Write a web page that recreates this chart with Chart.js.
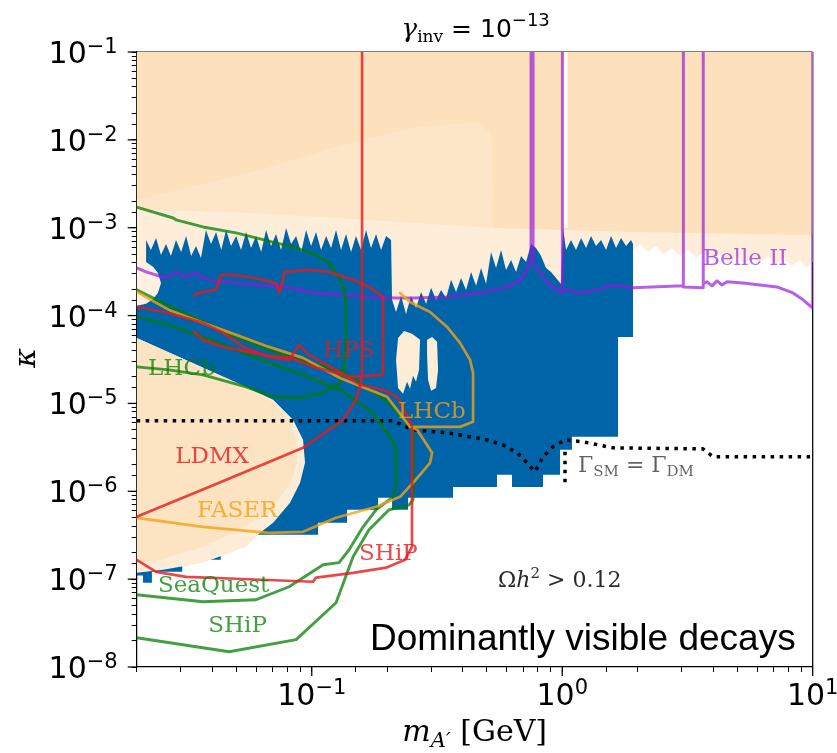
<!DOCTYPE html>
<html>
<head>
<meta charset="utf-8">
<script src="https://cdn.jsdelivr.net/npm/chart.js@4.4.1/dist/chart.umd.min.js"></script>
<style>
html,body{margin:0;padding:0;background:#ffffff;overflow:hidden;}
canvas{display:block;}
</style>
</head>
<body>
<canvas id="chart" width="837" height="753"></canvas>
<script>
// ---------------- axes ----------------
const xRange = [0.02, 10];
const yRange = [1e-8, 1e-1];
const xMajorTicks = [0.1, 1, 10];
const xMajorExponents = ['\u22121', '0', '1'];
const yMajorTicks = [1e-8, 1e-7, 1e-6, 1e-5, 1e-4, 1e-3, 1e-2, 1e-1];
const yMajorExponents = ['\u22128', '\u22127', '\u22126', '\u22125', '\u22124', '\u22123', '\u22122', '\u22121'];

// ---------------- excluded (peach) regions ----------------
const peachEdgeRight = [[1.917,5.59e-4],[2.045,6.54e-4],[2.201,5.30e-4],[2.369,6.21e-4],[2.549,5.03e-4],[2.744,5.89e-4],[2.953,4.78e-4],[3.178,5.59e-4],[3.420,4.53e-4],[3.682,5.30e-4],[3.963,4.30e-4],[4.266,5.03e-4],[4.591,4.08e-4],[4.941,4.78e-4],[5.318,3.87e-4],[5.724,4.53e-4],[6.160,4.08e-4],[6.630,4.78e-4],[7.136,3.87e-4],[7.681,4.53e-4],[8.266,3.67e-4],[8.897,4.30e-4],[9.403,3.49e-4],[10,4.08e-4]];
const peachDarkTop = [[0.02,0.1],[10,0.1],[10,8.28e-4],[1.9,8.96e-4],[0.53,9.95e-4],[0.52,1.14e-2],[0.457,1.56e-2],[0.271,1.40e-2],[0.171,1.05e-2],[0.108,7.29e-3],[0.0622,4.54e-3],[0.0358,3.07e-3],[0.02,2.07e-3]];
const peachWedge = [[0.02,2.07e-3],[0.0358,3.07e-3],[0.0622,4.54e-3],[0.108,7.29e-3],[0.171,1.05e-2],[0.271,1.40e-2],[0.457,1.56e-2],[0.52,1.14e-2],[0.53,9.95e-4],[0.3,1.1e-3],[0.12,1.3e-3],[0.05,1.5e-3],[0.02,1.6e-3]];
const whiteGap = [[1.01,0.1],[1.05,0.1],[1.05,9.95e-4],[1.01,9.95e-4]];
const peachBulge = [[0.02,4.30e-4],[0.0218,4.08e-4],[0.0233,3.58e-4],[0.0243,3.06e-4],[0.0250,2.35e-4],[0.0243,1.81e-4],[0.0233,1.55e-4],[0.0218,1.36e-4],[0.02,1.29e-4]];
const blobOuter = [[0.02,5.57e-5],[0.0547,1.54e-5],[0.0701,1.10e-5],[0.0842,6.51e-6],[0.0923,3.85e-6],[0.0940,2.11e-6],[0.0898,1.25e-6],[0.0819,7.40e-7],[0.0701,4.38e-7],[0.0622,3.37e-7],[0.0547,2.34e-7],[0.0368,1.54e-7],[0.0255,1.28e-7],[0.02,1.18e-7]];
const blobInner = [[0.02,5.57e-5],[0.0547,1.54e-5],[0.0701,1.04e-5],[0.0804,6.51e-6],[0.0866,3.85e-6],[0.0874,2.11e-6],[0.0819,1.19e-6],[0.0681,6.16e-7],[0.0517,3.65e-7],[0.0358,2.28e-7],[0.0248,1.66e-7],[0.02,1.54e-7]];

// ---------------- blue allowed region ----------------
const blueTop = [[0.0218,7.26e-4],[0.0228,5.59e-4],[0.0239,7.65e-4],[0.0250,4.9e-4],[0.0262,6.54e-4],[0.0274,4.78e-4],[0.0287,7.26e-4],[0.0301,5.30e-4],[0.0315,8.06e-4],[0.0330,4.78e-4],[0.0345,6.21e-4],[0.0361,4.53e-4],[0.0378,9.44e-4],[0.0396,6.54e-4],[0.0415,8.96e-4],[0.0435,5.59e-4],[0.0455,9.44e-4],[0.0476,6.21e-4],[0.0499,8.06e-4],[0.0522,5.59e-4],[0.0547,8.96e-4],[0.0572,5.89e-4],[0.0599,8.06e-4],[0.0628,5.30e-4],[0.0657,9.44e-4],[0.0688,6.21e-4],[0.0720,8.50e-4],[0.0754,5.59e-4],[0.0790,9.95e-4],[0.0827,6.54e-4],[0.0866,8.06e-4],[0.0907,5.30e-4],[0.0949,9.44e-4],[0.0994,6.21e-4],[0.1040,8.96e-4],[0.1089,5.59e-4],[0.1141,8.06e-4],[0.1194,5.89e-4],[0.1250,9.44e-4],[0.1309,5.59e-4],[0.1370,8.50e-4],[0.1435,5.30e-4],[0.1502,8.06e-4],[0.1573,5.59e-4],[0.1647,9.44e-4],[0.1724,5.89e-4],[0.1806,8.50e-4],[0.1891,5.59e-4],[0.1980,8.06e-4],[0.2073,7.26e-4],[0.2092,1.51e-4],[0.2170,1.10e-4],[0.2272,1.67e-4],[0.2379,1.04e-4],[0.2491,1.67e-4],[0.2608,1.22e-4],[0.2731,1.86e-4],[0.2860,1.36e-4],[0.2995,2.07e-4],[0.3135,1.51e-4],[0.3283,1.96e-4],[0.3437,1.59e-4],[0.3599,2.55e-4],[0.3768,1.86e-4],[0.3945,2.68e-4],[0.4131,1.96e-4],[0.4325,3.14e-4],[0.4529,2.18e-4],[0.4742,3.49e-4],[0.4965,2.29e-4],[0.5198,5.30e-4],[0.5442,3.49e-4],[0.5698,5.59e-4],[0.5966,3.31e-4],[0.6247,4.30e-4],[0.6541,3.14e-4],[0.6848,4.78e-4],[0.7171,4.08e-4],[0.7508,6.54e-4],[0.7861,5.89e-4],[0.8231,4.78e-4],[0.8618,3.49e-4],[0.9023,3.14e-4],[0.9447,2.68e-4],[0.9890,2.29e-4],[1.007,9.95e-4],[1.036,5.59e-4],[1.084,7.26e-4],[1.135,5.59e-4],[1.189,7.65e-4],[1.245,5.89e-4],[1.303,8.06e-4],[1.364,6.21e-4],[1.429,7.26e-4],[1.496,5.59e-4],[1.566,8.06e-4],[1.640,5.89e-4],[1.717,7.65e-4],[1.798,6.21e-4],[1.882,7.26e-4],[1.917,6.54e-4]];
const blueBottom = [[1.917,5.72e-5],[1.670,5.72e-5],[1.670,4.17e-6],[1.094,4.17e-6],[1.094,2.97e-6],[0.980,2.97e-6],[0.980,1.54e-6],[0.838,1.54e-6],[0.838,1.12e-6],[0.630,1.12e-6],[0.630,1.54e-6],[0.549,1.54e-6],[0.549,1.12e-6],[0.3665,1.12e-6],[0.3665,8.43e-7],[0.2423,8.43e-7],[0.2423,6.16e-7],[0.2092,6.16e-7],[0.2092,8.43e-7],[0.1840,8.43e-7],[0.1840,6.16e-7],[0.1383,6.16e-7],[0.1383,4.38e-7],[0.1060,4.38e-7],[0.1060,3.20e-7],[0.0433,3.20e-7],[0.0433,1.66e-7],[0.0304,1.66e-7],[0.0304,1.21e-7],[0.0230,1.21e-7],[0.0230,9.1e-8],[0.0212,9.1e-8],[0.0212,1.1e-7],[0.0200,1.1e-7],[0.0200,3.31e-4],[0.0218,3.31e-4]];
const blueHole1 = [[0.2211,5.57e-5],[0.2337,6.69e-5],[0.2513,6.19e-5],[0.2706,5.29e-5],[0.2681,2.41e-5],[0.2608,1.76e-5],[0.2537,2.06e-5],[0.2468,1.47e-5],[0.2401,1.76e-5],[0.2314,1.29e-5],[0.2211,1.50e-5],[0.2170,3.13e-5]];
const blueHole2 = [[0.2886,5.29e-5],[0.3023,5.72e-5],[0.3164,5.02e-5],[0.3193,2.41e-5],[0.3135,1.50e-5],[0.2995,1.39e-5],[0.2913,1.86e-5],[0.2886,3.57e-5]];

// ---------------- experiment curves ----------------
const belleII = [[0.02,3.49e-4],[0.0218,3.14e-4],[0.0239,2.90e-4],[0.0262,2.68e-4],[0.0287,3.14e-4],[0.0315,2.75e-4],[0.0345,3.05e-4],[0.0368,2.68e-4],[0.0415,2.42e-4],[0.0468,2.42e-4],[0.0532,2.29e-4],[0.0675,2.18e-4],[0.0812,2.07e-4],[0.104,1.81e-4],[0.1334,1.72e-4],[0.1693,1.63e-4],[0.217,1.59e-4],[0.2537,1.59e-4],[0.3468,1.63e-4],[0.4698,1.81e-4],[0.602,2.12e-4],[0.6785,2.55e-4],[0.7237,3.31e-4],[0.7506,4.53e-4],[0.7506,0.1],[0.7648,0.1],[0.7648,4.08e-4],[0.8156,3.06e-4],[0.8941,2.23e-4],[0.98,1.86e-4],[0.998,1.86e-4],[0.998,0.1],[1.003,0.1],[1.003,1.96e-4],[1.055,1.96e-4],[1.178,1.81e-4],[1.377,1.96e-4],[1.595,2.23e-4],[1.917,2.07e-4],[3.036,2.18e-4],[3.036,0.1],[3.05,0.1],[3.05,2.12e-4],[3.648,2.07e-4],[3.648,0.1],[3.66,0.1],[3.66,2.30e-4],[3.784,2.42e-4],[3.963,2.18e-4],[4.15,2.48e-4],[4.345,2.23e-4],[4.549,2.42e-4],[5.27,2.35e-4],[7.2,2.12e-4],[8.34,1.81e-4],[9.15,1.51e-4],[10,1.22e-4],[10,0.1]];
const ldmx = [[0.02,5.13e-7],[0.0427,1.25e-6],[0.0923,3.12e-6],[0.1334,6.51e-6],[0.1502,1.10e-5],[0.1573,1.71e-5],[0.1588,2.41e-5],[0.1588,0.1]];
const hps = [[0.0339,1.72e-4],[0.0368,1.86e-4],[0.0415,1.96e-4],[0.0427,2.55e-4],[0.0435,2.90e-4],[0.0485,2.90e-4],[0.0562,2.75e-4],[0.0639,2.55e-4],[0.0720,2.35e-4],[0.0741,1.81e-4],[0.0768,2.55e-4],[0.0775,3.14e-4],[0.0975,3.31e-4],[0.1172,3.14e-4],[0.1462,2.55e-4],[0.1693,2.12e-4],[0.1926,1.63e-4],[0.1926,2.11e-5],[0.1422,2.01e-5],[0.1050,2.54e-5],[0.0819,3.30e-5],[0.0675,3.48e-5],[0.0532,3.97e-5],[0.0443,4.40e-5],[0.0368,5.29e-5],[0.0339,6.52e-5]];
const shipRed = [[0.02,1.26e-4],[0.0269,1.07e-4],[0.0368,8.26e-5],[0.0443,6.37e-5],[0.0532,4.40e-5],[0.0675,3.39e-5],[0.0812,3.13e-5],[0.0890,4.64e-5],[0.0975,3.57e-5],[0.1250,2.41e-5],[0.1559,1.63e-5],[0.1926,1.43e-5],[0.2191,1.19e-5],[0.2423,7.04e-6],[0.2513,5.41e-6],[0.2513,2.34e-7],[0.2358,1.66e-7],[0.1980,1.35e-7],[0.1462,1.18e-7],[0.1040,1.04e-7],[0.1012,9.34e-8],[0.0499,1.01e-7],[0.0315,1.06e-7],[0.0239,1.21e-7],[0.02,1.66e-7]];
const lhcbGreen = [[0.02,1.72e-3],[0.0280,1.29e-3],[0.0287,1.23e-3],[0.0368,1.02e-3],[0.0499,8.72e-4],[0.0599,7.65e-4],[0.0720,6.71e-4],[0.0866,5.89e-4],[0.1040,4.90e-4],[0.1172,3.98e-4],[0.1285,2.75e-4],[0.1346,1.96e-4],[0.1370,1.07e-4],[0.1370,5.29e-5],[0.1346,2.61e-5],[0.1297,1.71e-5],[0.1110,1.32e-5],[0.0898,1.16e-5],[0.0701,1.19e-5],[0.0547,1.54e-5],[0.0368,2.11e-5],[0.0269,2.41e-5],[0.02,2.61e-5]];
const seaQuest = [[0.02,9.66e-5],[0.0269,7.83e-5],[0.0368,5.72e-5],[0.0499,4.07e-5],[0.0675,2.90e-5],[0.0923,2.11e-5],[0.1297,1.43e-5],[0.1757,7.81e-6],[0.2092,3.85e-6],[0.2170,2.97e-6],[0.2170,1.12e-6],[0.2111,8.65e-7],[0.1806,6.16e-7],[0.1603,3.94e-7],[0.1409,2.16e-7],[0.1285,1.54e-7],[0.1110,1.46e-7],[0.0812,8.19e-8],[0.0599,5.83e-8],[0.0368,5.53e-8],[0.02,6.64e-8]];
const shipGreen = [[0.02,1.96e-4],[0.0269,1.29e-4],[0.0368,8.48e-5],[0.0499,5.72e-5],[0.0675,4.07e-5],[0.0923,3.05e-5],[0.1334,2.29e-5],[0.2035,1.02e-5],[0.2537,5.01e-6],[0.2537,8.0e-7],[0.2446,7.02e-7],[0.2035,6.16e-7],[0.1693,3.65e-7],[0.1462,1.80e-7],[0.1250,5.38e-8],[0.0866,2.05e-8],[0.0468,1.49e-8],[0.02,2.15e-8]];
const lhcbOrange = [[0.02,1.86e-4],[0.0269,1.16e-4],[0.0368,8.26e-5],[0.0499,6.03e-5],[0.0675,4.40e-5],[0.0923,3.30e-5],[0.1297,1.95e-5],[0.1998,1.19e-5],[0.2468,5.41e-6],[0.3908,5.41e-6],[0.4406,6.17e-6],[0.4406,2.23e-5],[0.4285,3.13e-5],[0.3908,4.89e-5],[0.3468,7.43e-5],[0.2967,1.10e-4],[0.2468,1.43e-4],[0.2252,1.81e-4]];
const faser = [[0.02,4.99e-7],[0.0368,3.94e-7],[0.0675,3.37e-7],[0.0923,3.46e-7],[0.1250,4.99e-7],[0.1806,6.66e-7],[0.2111,8.0e-7],[0.2252,8.65e-7],[0.2537,1.25e-6],[0.2967,2.11e-6],[0.3023,2.74e-6],[0.2633,5.01e-6],[0.2468,5.41e-6]];
const widthEquality = [[0.02,6.34e-6],[0.2111,6.34e-6],[0.2537,5.01e-6],[0.3468,4.63e-6],[0.501,3.85e-6],[0.5803,3.38e-6],[0.6601,2.74e-6],[0.7237,2.11e-6],[0.7786,1.67e-6],[0.8382,2.47e-6],[0.919,3.21e-6],[1.026,3.85e-6],[1.211,3.66e-6],[1.595,3.12e-6],[3.648,3.04e-6],[4.0,2.47e-6],[10,2.47e-6]];
const widthEqualityVertical = [[1.026,2.81e-6],[1.026,1.19e-6]];

// ---------------- text annotations (anchor in data coordinates) ----------------
const annotationText = ['Belle II','HPS','LHCb','LHCb','LDMX','FASER','SHiP','SeaQuest','SHiP'];
const annotationAnchor = [[3.648,3.77e-4],[0.111,3.39e-5],[0.0222,2.11e-5],[0.2211,6.86e-6],[0.0285,2.11e-6],[0.0348,5.13e-7],[0.1545,1.66e-7],[0.0243,7.18e-8],[0.0386,2.52e-8]];

// ---------------- styles ----------------
const C_PURPLE = 'rgba(150,20,215,0.68)';
const C_RED = 'rgba(230,25,30,0.8)';
const C_GREEN = 'rgba(0,125,0,0.74)';
const C_ORANGE = 'rgba(245,160,20,0.8)';
const annotationColor = [C_PURPLE, C_RED, C_GREEN, C_ORANGE, C_RED, C_ORANGE, C_RED, C_GREEN, C_GREEN];

function P(arr){ return arr.map(p => ({x: p[0], y: p[1]})); }
const datasets = [];
function addArea(arr, color, order){
  datasets.push({data: P(arr), fill: 'shape', backgroundColor: color, borderColor: 'rgba(0,0,0,0)', borderWidth: 0, pointRadius: 0, tension: 0, order});
}
function addLine(arr, color, width, order, dash){
  datasets.push({data: P(arr), fill: false, backgroundColor: 'rgba(0,0,0,0)', borderColor: color, borderWidth: width, borderDash: dash || [], borderJoinStyle: 'round', borderCapStyle: dash ? 'butt' : 'round', pointRadius: 0, tension: 0, order});
}

const peachLight = [[0.02,0.1],[10,0.1]].concat(peachEdgeRight.slice().reverse()).concat([[1.917,1.02e-4],[0.02,1.02e-4]]);
addArea(peachLight, 'rgb(254,237,216)', 100);
addArea(peachDarkTop, 'rgb(253,225,189)', 99);
addArea(peachWedge, 'rgb(253,230,199)', 99);
addArea(whiteGap, '#ffffff', 98);
addArea(blueTop.concat(blueBottom), 'rgb(0,101,168)', 97);
addArea(blueHole1, 'rgb(253,236,214)', 96);
addArea(blueHole2, 'rgb(253,236,214)', 96);
addArea(peachBulge, 'rgb(254,241,226)', 95);
addArea(blobOuter, 'rgb(253,236,215)', 94);
addArea(blobInner, 'rgb(252,227,194)', 93);

addLine(widthEquality, '#000', 3.5, 30, [3.5, 5.5]);
addLine(widthEqualityVertical, '#000', 3.5, 30, [3.5, 5.5]);
addLine(belleII, C_PURPLE, 3, 29);
addLine(lhcbGreen, C_GREEN, 2.9, 28);
addLine(seaQuest, C_GREEN, 2.9, 27);
addLine(shipGreen, C_GREEN, 2.9, 26);
addLine(lhcbOrange, C_ORANGE, 2.7, 25);
addLine(faser, C_ORANGE, 2.7, 24);
addLine(hps, C_RED, 2.7, 23);
addLine(shipRed, C_RED, 2.7, 22);
addLine(ldmx, C_RED, 2.7, 21);

function runsWidth(ctx, runs){
  let w = 0;
  for (const r of runs){ ctx.font = r.f; w += ctx.measureText(r.t).width; }
  return w;
}
function drawRuns(ctx, x, y, runs, align, color){
  const w = runsWidth(ctx, runs);
  let cx = align === 'center' ? x - w / 2 : (align === 'right' ? x - w : x);
  ctx.textAlign = 'left';
  ctx.textBaseline = 'alphabetic';
  for (const r of runs){
    ctx.font = r.f;
    ctx.fillStyle = r.c || color;
    ctx.fillText(r.t, cx, y + (r.dy || 0));
    cx += ctx.measureText(r.t).width;
  }
}

const SANS = '"DejaVu Sans"';
const SERIF = '"DejaVu Serif"';

const deco = {
  id: 'deco',
  beforeDatasetsDraw(chart){
    const {ctx, chartArea: a} = chart;
    ctx.save();
    ctx.strokeStyle = '#000';
    ctx.lineWidth = 1.25;
    ctx.beginPath(); ctx.moveTo(a.right, a.top); ctx.lineTo(a.right, a.bottom); ctx.stroke();
    ctx.beginPath(); ctx.moveTo(a.left, a.top); ctx.lineTo(a.right, a.top); ctx.stroke();
    ctx.restore();
  },
  afterDatasetsDraw(chart){
    const {ctx, scales: {x, y}} = chart;
    ctx.save();
    annotationText.forEach((t, i) => {
      const px = x.getPixelForValue(annotationAnchor[i][0]);
      const py = y.getPixelForValue(annotationAnchor[i][1]);
      drawRuns(ctx, px, py, [{t, f: '23px ' + SERIF}], 'left', annotationColor[i]);
    });
    drawRuns(ctx, x.getPixelForValue(1.156), y.getPixelForValue(1.67e-6), [
      {t: '\u0393', f: '22px ' + SERIF}, {t: 'SM', f: '15px ' + SERIF, dy: 4},
      {t: ' = ', f: '22px ' + SERIF}, {t: '\u0393', f: '22px ' + SERIF}, {t: 'DM', f: '15px ' + SERIF, dy: 4}
    ], 'left', 'rgba(0,0,0,0.62)');
    drawRuns(ctx, x.getPixelForValue(0.5543), y.getPixelForValue(8.19e-8), [
      {t: '\u03A9', f: '22px ' + SERIF}, {t: 'h', f: 'italic 22px ' + SERIF}, {t: '2', f: '15px ' + SERIF, dy: -9},
      {t: ' > 0.12', f: '22px ' + SERIF}
    ], 'left', '#2a2a2a');
    drawRuns(ctx, x.getPixelForValue(0.1708), y.getPixelForValue(1.57e-8), [
      {t: 'Dominantly visible decays', f: '37px "Liberation Sans"'}
    ], 'left', '#000');
    ctx.restore();
  },
  afterDraw(chart){
    const {ctx, chartArea: a, scales: {x, y}} = chart;
    ctx.save();
    ctx.strokeStyle = '#000';
    ctx.lineWidth = 1.25;
    xMajorTicks.forEach(v => {
      const px = x.getPixelForValue(v);
      ctx.beginPath(); ctx.moveTo(px, a.bottom); ctx.lineTo(px, a.bottom + 9); ctx.stroke();
    });
    yMajorTicks.forEach(v => {
      const py = y.getPixelForValue(v);
      ctx.beginPath(); ctx.moveTo(a.left - 9, py); ctx.lineTo(a.left, py); ctx.stroke();
    });
    xMajorTicks.forEach((v, i) => {
      const px = x.getPixelForValue(v);
      drawRuns(ctx, px, 705, [{t: '10', f: '30px ' + SANS}, {t: xMajorExponents[i], f: '21px ' + SANS, dy: -11}], 'center', '#000');
    });
    yMajorTicks.forEach((v, i) => {
      const py = y.getPixelForValue(v);
      drawRuns(ctx, a.left - 19, py + 11, [{t: '10', f: '30px ' + SANS}, {t: yMajorExponents[i], f: '21px ' + SANS, dy: -10}], 'right', '#000');
    });
    drawRuns(ctx, (a.left + a.right) / 2 + 1, 37, [
      {t: '\u03B3', f: 'italic 26px ' + SERIF}, {t: 'inv', f: '17px ' + SERIF, dy: 5},
      {t: ' = 10', f: '25px ' + SANS}, {t: '\u221213', f: '18px ' + SANS, dy: -11}
    ], 'center', '#000');
    drawRuns(ctx, (a.left + a.right) / 2, 741, [
      {t: 'm', f: 'italic 30px ' + SERIF}, {t: 'A\u2032', f: 'italic 21px ' + SERIF, dy: 6},
      {t: ' [GeV]', f: '30px ' + SERIF}
    ], 'center', '#000');
    ctx.translate(26, 358);
    ctx.rotate(-Math.PI / 2);
    drawRuns(ctx, 0, 9, [{t: '\u03BA', f: 'italic 30px ' + SERIF}], 'center', '#000');
    ctx.restore();
  }
};

new Chart(document.getElementById('chart'), {
  type: 'line',
  data: {datasets},
  options: {
    responsive: false,
    animation: false,
    devicePixelRatio: 1,
    events: [],
    layout: {padding: {left: 0, right: 24.3, top: 52, bottom: 0}},
    plugins: {legend: {display: false}, tooltip: {enabled: false}, title: {display: false}},
    scales: {
      x: {
        type: 'logarithmic', position: 'bottom', min: xRange[0], max: xRange[1],
        ticks: {display: false},
        grid: {display: true, drawOnChartArea: false, drawTicks: true, tickLength: 5, tickColor: '#000', tickWidth: 1},
        border: {display: true, color: '#000', width: 1.25},
        afterFit(scale){ scale.height = 86; }
      },
      y: {
        type: 'logarithmic', position: 'left', min: yRange[0], max: yRange[1],
        ticks: {display: false},
        grid: {display: true, drawOnChartArea: false, drawTicks: true, tickLength: 5, tickColor: '#000', tickWidth: 1},
        border: {display: true, color: '#000', width: 1.25},
        afterFit(scale){ scale.width = 136.7; }
      }
    }
  },
  plugins: [deco]
});
</script>
</body>
</html>
